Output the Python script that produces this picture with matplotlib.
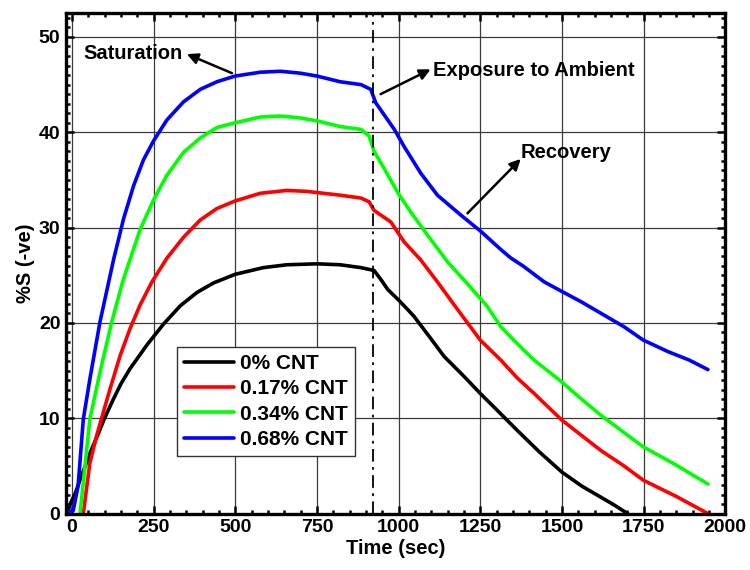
import matplotlib
matplotlib.use("Agg")
import matplotlib.pyplot as plt
from matplotlib.ticker import MultipleLocator

plt.rcParams['font.family'] = ['Liberation Sans', 'DejaVu Sans']
plt.rcParams['font.weight'] = 'bold'

# time (sec) / %S (-ve)
t_0 = [-16, 0, 9, 30, 55, 81, 100, 127, 150, 178, 230, 281, 332, 383, 434, 500, 586,
       658, 750, 821, 885, 925, 945, 967, 1000, 1028, 1047, 1100, 1139, 1200, 1250,
       1300, 1364, 1430, 1500, 1560, 1620, 1660, 1701]
s_0 = [0, 1.4, 2.0, 4.0, 6.3, 8.4, 10.0, 12.0, 13.6, 15.2, 17.7, 19.9, 21.8, 23.2, 24.2,
       25.1, 25.8, 26.1, 26.2, 26.1, 25.8, 25.5, 24.6, 23.5, 22.4, 21.4, 20.7, 18.3,
       16.5, 14.4, 12.6, 10.9, 8.7, 6.5, 4.35, 2.9, 1.7, 0.9, 0]

t_17 = [35, 55, 76, 91, 117, 148, 178, 209, 245, 291, 342, 393, 444, 500, 577, 658,
        719, 821, 885, 910, 925, 976, 1017, 1068, 1119, 1170, 1250, 1313, 1364, 1415,
        1500, 1560, 1620, 1690, 1749, 1850, 1947]
s_17 = [0, 5.3, 8.2, 10.0, 13.1, 16.6, 19.4, 21.9, 24.3, 26.8, 29.0, 30.8, 32.0, 32.8,
        33.6, 33.9, 33.8, 33.4, 33.1, 32.7, 31.8, 30.6, 28.5, 26.6, 24.3, 21.9, 18.2,
        16.1, 14.2, 12.6, 9.8, 8.2, 6.6, 5.0, 3.5, 1.8, 0]

t_34 = [25, 55, 86, 122, 157, 209, 250, 291, 342, 393, 444, 500, 577, 638, 699, 750,
        821, 885, 910, 925, 956, 997, 1038, 1089, 1150, 1211, 1272, 1313, 1364, 1415,
        1500, 1560, 1620, 1690, 1749, 1844, 1947]
s_34 = [0, 9.9, 14.8, 20.1, 24.5, 29.8, 32.9, 35.5, 37.9, 39.4, 40.5, 41.0, 41.6, 41.7,
        41.5, 41.2, 40.6, 40.3, 39.6, 38.0, 36.2, 33.7, 31.6, 29.2, 26.4, 24.1, 21.7,
        19.6, 17.8, 16.1, 13.8, 12.0, 10.3, 8.5, 7.0, 5.2, 3.1]

t_68 = [-21, 4, 19, 35, 55, 86, 128, 158, 189, 219, 250, 291, 342, 393, 444, 500, 577,
        638, 699, 750, 821, 885, 915, 930, 987, 1017, 1068, 1119, 1191, 1252, 1313,
        1344, 1380, 1446, 1500, 1560, 1620, 1690, 1749, 1824, 1890, 1947]
s_68 = [0.2, 0.3, 2.9, 9.9, 14.1, 20.1, 26.7, 30.9, 34.4, 37.1, 39.1, 41.3, 43.2, 44.5,
        45.3, 45.9, 46.3, 46.4, 46.2, 45.9, 45.3, 45.0, 44.5, 43.1, 40.3, 38.5, 35.7,
        33.4, 31.3, 29.6, 27.7, 26.8, 26.0, 24.3, 23.3, 22.2, 21.0, 19.6, 18.2, 17.0,
        16.1, 15.1]

series = [
    (t_0, s_0, '0% CNT', '#000000'),
    (t_17, s_17, '0.17% CNT', '#ff0000'),
    (t_34, s_34, '0.34% CNT', '#00ff00'),
    (t_68, s_68, '0.68% CNT', '#0000ff'),
]

t_switch = 922

fig = plt.figure(figsize=(7.5, 5.7), dpi=100)
ax = fig.add_axes([0.088, 0.099, 0.879, 0.878])

for t, s, name, col in series:
    ax.plot(t, s, color=col, lw=2.6, label=name, solid_capstyle='round',
            solid_joinstyle='round')

ax.axvline(t_switch, color='k', lw=1.3, linestyle=(0, (7, 3, 1.5, 3)))

ax.set_xlim(-18, 2000)
ax.set_ylim(0, 52.5)
ax.xaxis.set_major_locator(MultipleLocator(250))
ax.xaxis.set_minor_locator(MultipleLocator(50))
ax.yaxis.set_major_locator(MultipleLocator(10))
ax.yaxis.set_minor_locator(MultipleLocator(1))
ax.grid(True, which='major', color='#3a3a3a', lw=0.9)
ax.set_axisbelow(True)

ax.tick_params(which='both', direction='in', top=True, right=True, width=1.8,
               labelsize=14, colors='k')
ax.tick_params(which='major', length=5.5, pad=4)
ax.tick_params(which='minor', length=3)
for sp in ax.spines.values():
    sp.set_linewidth(2.4)

ax.set_xlabel('Time (sec)', fontsize=14.5, fontweight='bold', labelpad=2)
ax.set_ylabel('%S (-ve)', fontsize=14.5, fontweight='bold', labelpad=3)

arrow = dict(arrowstyle='-|>', color='k', lw=1.8, mutation_scale=16,
             shrinkA=0, shrinkB=0)
ax.annotate('', xy=(352, 48.2), xytext=(490, 46.2), arrowprops=arrow)
ax.text(34, 48.3, 'Saturation', fontsize=14.5, fontweight='bold', va='center')
ax.annotate('', xy=(1098, 46.6), xytext=(945, 44.0), arrowprops=arrow)
ax.text(1104, 46.5, 'Exposure to Ambient', fontsize=14.5, fontweight='bold', va='center')
ax.annotate('', xy=(1374, 37.2), xytext=(1211, 31.5), arrowprops=arrow)
ax.text(1374, 37.9, 'Recovery', fontsize=14.5, fontweight='bold', va='center')

leg = ax.legend(loc='upper left', bbox_to_anchor=(0.168, 0.333), borderaxespad=0,
                fontsize=15, handlelength=2.4, handletextpad=0.3,
                labelspacing=0.3, borderpad=0.35, fancybox=False,
                framealpha=1, edgecolor='#333333')
leg.get_frame().set_linewidth(1.0)

fig.savefig('out.png', dpi=100)
